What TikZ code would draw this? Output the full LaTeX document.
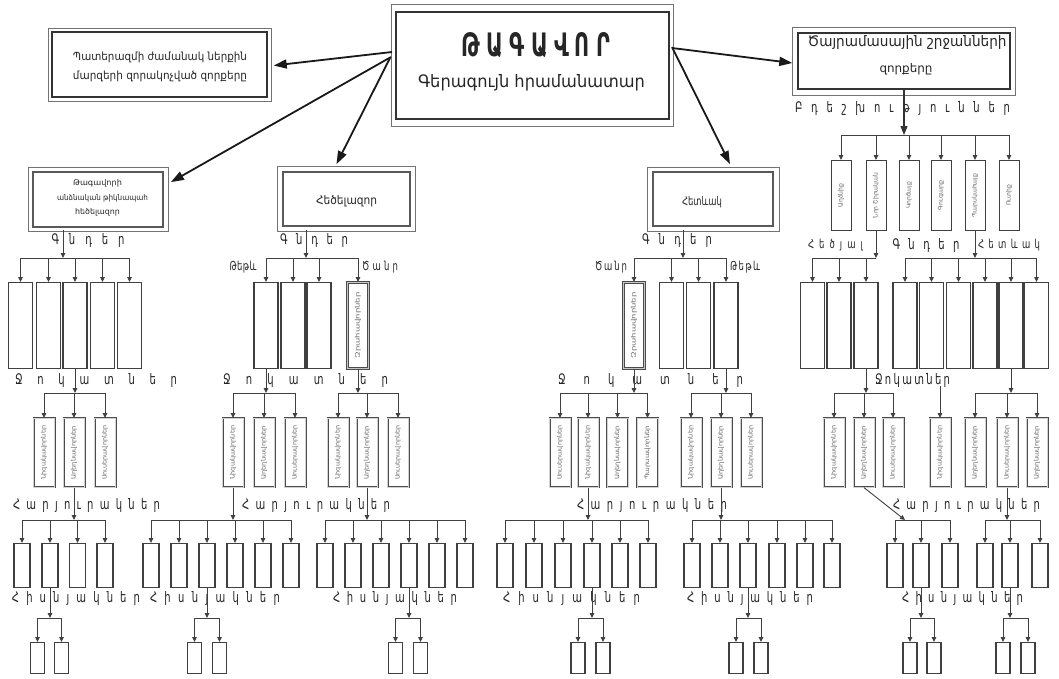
\documentclass[tikz,border=0pt]{standalone}
\usepackage{fontspec}
\usepackage{graphicx}
\setmainfont{DejaVu Sans}
\usetikzlibrary{arrows.meta}
\def\splA#1{\ifx\relax#1\else#1\expandafter\splB\fi}
\def\splB#1{\ifx\relax#1\else\hfill#1\expandafter\splB\fi}
\newcommand\spl[1]{\splA#1\relax}
\newcommand\spaced[2]{\scalebox{1}[1.45]{\makebox[#1pt][s]{\spl{#2}}}}
\newcommand\vt[2]{\resizebox{#1pt}{4.6pt}{#2}}
\newcommand\forkbar[3]{\foreach \ch in {#3}{\draw[barl] (#1 |- 0,#2) -- (\ch.north |- 0,#2); \draw[arr] (\ch.north |- 0,#2) -- (\ch.north);}}
\newcommand\fork[3]{\draw[arr] (#1) -- (#1 |- 0,#2); \forkbar{#1}{#2}{#3}}
\newcommand\oframe[3]{\draw[frame] ([shift={(-#2pt,#3pt)}]#1.north west) rectangle ([shift={(#2pt,-#3pt)}]#1.south east);}
\tikzset{
  tbox/.style={draw=black!80, line width=1.4pt, inner sep=0, fill=white},
  frame/.style={draw=black!55, line width=0.6pt},
  gbox/.style={draw=black!75, line width=1.2pt, inner sep=0, anchor=north, minimum width=24pt, minimum height=86pt},
  heavy/.style={draw=black!70, line width=0.6pt, double=gray!45, double distance=1.4pt, inner sep=0, anchor=north, minimum width=21pt, minimum height=86pt},
  jbox/.style={draw=black!70, line width=0.6pt, double=gray!35, double distance=0.8pt, inner sep=0, anchor=north, minimum width=21pt, minimum height=69pt},
  bbox/.style={draw=black!75, line width=0.9pt, inner sep=0, anchor=north, minimum width=20pt, minimum height=70pt},
  hbox/.style={draw=black!75, line width=1.2pt, inner sep=0, anchor=north, minimum width=16pt, minimum height=44pt},
  fbox/.style={draw=black!75, line width=1.2pt, inner sep=0, anchor=north, minimum width=14pt, minimum height=31pt},
  vtext/.style={rotate=90, inner sep=0, text=black!60},
  lab/.style={inner sep=0, font=\fontsize{10}{10}\selectfont, text=black!85},
  slab/.style={inner sep=0, font=\fontsize{8.5}{9}\selectfont, text=black!85},
  txt/.style={inner sep=0, text=black!85},
  arr/.style={draw=black!75, line width=0.9pt, -{Triangle[length=5pt,width=4.5pt]}},
  barl/.style={draw=black!75, line width=0.9pt},
  bigarr/.style={draw=black!90, line width=1.8pt, -{Triangle[length=13pt,width=9pt]}},
  medarr/.style={draw=black!80, line width=1.2pt, -{Triangle[length=9pt,width=7pt]}}
}
\begin{document}
\begin{tikzpicture}[x=1pt,y=-1pt]
\useasboundingbox (0,0) rectangle (1059,678);
\fill[white] (0,0) rectangle (1059,678);

% top-level boxes
\node[tbox, minimum width=273pt, minimum height=107pt] (king) at (532.5,65.5) {};
\oframe{king}{4}{7}
\node[txt] (kt1) at (536,45) {\resizebox{148pt}{24pt}{\bfseries Թ\kern3pt Ա\kern3pt Գ\kern3pt Ա\kern3pt Վ\kern3pt Ո\kern3pt Ր}};
\node[txt] (kt2) at (531.5,83) {\resizebox{227pt}{13pt}{Գերագույն հրամանատար}};

\node[tbox, minimum width=215pt, minimum height=65pt] (left1) at (159.5,64.5) {};
\oframe{left1}{3.5}{3.5}
\node[txt] (l1a) at (160,57) {\resizebox{174pt}{8.5pt}{Պատերազմի ժամանակ ներքին}};
\node[txt] (l1b) at (160,76) {\resizebox{174pt}{8.5pt}{մարզերի զորակոչված զորքերը}};

\node[tbox, minimum width=212pt, minimum height=56pt] (right1) at (904,61) {};
\oframe{right1}{5}{5.5}
\node[txt] (r1a) at (907,43) {\resizebox{199pt}{11pt}{Ծայրամասային շրջանների}};
\node[txt] (r1b) at (906,69) {\resizebox{53pt}{9pt}{զորքերը}};

\node[tbox, draw=black!65, line width=1.8pt, minimum width=130pt, minimum height=55pt] (left2) at (98,199.5) {};
\oframe{left2}{4}{3.5}
\node[txt] (l2a) at (97.5,183) {\resizebox{49pt}{6pt}{Թագավորի}};
\node[txt] (l2b) at (102.5,198) {\resizebox{91pt}{6pt}{անձնական թիկնապահ}};
\node[txt] (l2c) at (97.5,212) {\resizebox{45pt}{6pt}{հեծելազոր}};

\node[tbox, draw=black!65, line width=1.8pt, minimum width=127pt, minimum height=54pt] (hedz) at (346.5,199) {};
\oframe{hedz}{4.5}{4.5}
\node[txt] (hedzt) at (346.5,201) {\resizebox{61pt}{9pt}{Հեծելազոր}};

\node[tbox, draw=black!65, line width=1.8pt, minimum width=120pt, minimum height=54pt] (hetev) at (713,199) {};
\oframe{hetev}{5}{4}
\node[txt] (hetevt) at (702,202) {\resizebox{40pt}{9pt}{Հետևակ}};

% top-level arrows
\coordinate (k1) at (392,52);
\coordinate (k2) at (391,57);
\coordinate (k3) at (390,58);
\coordinate (k4) at (672,48);
\coordinate (k5) at (672,47);
\draw[bigarr] (k1) -- ([shift={(6pt,-1pt)}]left1.east);
\draw[bigarr] (k2) -- ([shift={(7pt,-11pt)}]left2.north east);
\draw[bigarr] (k3) -- ([shift={(-10pt,7pt)}]hedz.north);
\draw[bigarr] (k4) -- ([shift={(-5pt,-2pt)}]right1.west);
\draw[bigarr] (k5) -- ([shift={(17pt,7pt)}]hetev.north);

% level labels
\node[lab] (gA) at (88,240) {\spaced{73}{Գնդեր}};
\node[lab] (gB) at (314,240) {\spaced{68}{Գնդեր}};
\node[lab] (gC) at (677,240) {\spaced{70}{Գնդեր}};
\node[lab] (gD) at (926,245) {\spaced{67}{Գնդեր}};
\node[slab] (ltB) at (243,267) {\spaced{27}{Թեթև}};
\node[slab] (hvB) at (380,267) {\spaced{36}{Ծանր}};
\node[slab] (hvC) at (611,267) {\spaced{32}{Ծանր}};
\node[slab] (ltC) at (745,267) {\spaced{30}{Թեթև}};
\node[slab] (hsD) at (835.5,245) {\spaced{55}{Հեծյալ}};
\node[slab] (htD) at (1009,245) {\spaced{62}{Հետևակ}};
\node[lab] (jA) at (96,380) {\spaced{162}{Ջոկատներ}};
\node[lab] (jB) at (305.5,380) {\spaced{165}{Ջոկատներ}};
\node[lab] (jC) at (650.5,380) {\spaced{185}{Ջոկատներ}};
\node[lab] (jD) at (912.5,380) {\spaced{75}{Ջոկատներ}};
\node[lab] (hA) at (86.5,505) {\spaced{147}{Հարյուրակներ}};
\node[lab] (hB) at (316,505) {\spaced{148}{Հարյուրակներ}};
\node[lab] (hC) at (652,505) {\spaced{150}{Հարյուրակներ}};
\node[lab] (hD) at (966.5,505) {\spaced{147}{Հարյուրակներ}};
\node[lab] (fA) at (76,598) {\spaced{128}{Հիսնյակներ}};
\node[lab] (fB1) at (215,598) {\spaced{130}{Հիսնյակներ}};
\node[lab] (fB2) at (395,598) {\spaced{124}{Հիսնյակներ}};
\node[lab] (fC1) at (571.5,598) {\spaced{137}{Հիսնյակներ}};
\node[lab] (fC2) at (750,598) {\spaced{126}{Հիսնյակներ}};
\node[lab] (fD) at (962.5,598) {\spaced{121}{Հիսնյակներ}};
\node[lab] (bd) at (902.5,108) {\spaced{215}{Բդեշխություններ}};

% bdeshkh boxes
\foreach \n/\x/\t in {d1/841/Աղձնիք, d2/876/Նոր Շիրական, d3/909/Կորճայք, d4/941/Գուգարք, d5/975/Պարսկահայք, d6/1009/Ուտիք}{
  \node[bbox] (\n) at (\x,160) {};
  \node[vtext] (\n-t) at (\n) {\resizebox{!}{4.6pt}{\t}};
}

% regiment-level boxes
\foreach \n/\x in {a1/20.5,a2/48.5,a3/75,a4/102.5,a5/129.5, b1/266,b2/293,b3/319, c2/671.5,c3/698.5,c4/726, dg1/812.5,dg2/839,dg3/866,dg4/905,dg5/931.5,dg6/958.5,dg7/985,dg8/1011,dg9/1036.5}
  \node[gbox] (\n) at (\x,282) {};
\node[heavy] (b4) at (358,282) {};
\node[vtext] (b4-t) at (b4) {\vt{66}{Զրահավորներ}};
\node[heavy] (c1) at (634,282) {};
\node[vtext] (c1-t) at (c1) {\vt{66}{Զրահավորներ}};

% detachment boxes
\foreach \n/\x/\t in {aj1/44/Նիզակավորներ, aj2/74/Աղեղնավորներ, aj3/105/Սուսերավորներ,
  bj1/233/Նիզակավորներ, bj2/264/Աղեղնավորներ, bj3/295/Սուսերավորներ, bj4/338/Նիզակավորներ, bj5/367/Աղեղնավորներ, bj6/398/Սուսերավորներ,
  cj1/560/Սուսերավորներ, cj2/588/Նիզակավորներ, cj3/617.5/Աղեղնավորներ, cj4/647.5/Պարսավորներ, cj5/691/Նիզակավորներ, cj6/721/Աղեղնավորներ, cj7/751/Սուսերավորներ,
  dj1/834/Նիզակավորներ, dj2/864/Աղեղնավորներ, dj3/893/Սուսերավորներ, dj4/940/Նիզակավորներ, dj5/975/Աղեղնավորներ, dj6/1007/Սուսերավորներ, dj7/1037/Աղեղնավորներ}{
  \node[jbox] (\n) at (\x,418) {};
  \node[vtext] (\n-t) at (\n) {\vt{54}{\t}};
}

% hundreds
\foreach \n/\x in {ah1/22,ah2/50,ah3/77.5,ah4/105, bh1/151,bh2/179,bh3/207,bh4/235,bh5/263,bh6/291, bh7/325,bh8/353,bh9/381,bh10/409,bh11/437,bh12/465, ch1/505,ch2/534,ch3/563,ch4/592,ch5/620,ch6/648, ch7/692,ch8/720,ch9/748,ch10/777,ch11/805,ch12/832, dh1/895,dh2/921,dh3/950,dh4/985,dh5/1010,dh6/1040}
  \node[hbox] (\n) at (\x,543) {};

% fifties
\foreach \n/\x in {af1/37.5,af2/61.5, bf1/194.5,bf2/219.5,bf3/395.5,bf4/420.5, cf1/578,cf2/603,cf3/736,cf4/761, df1/910,df2/934,df3/1003,df4/1028}
  \node[fbox] (\n) at (\x,642) {};

% connectors
\draw[medarr] (right1.south) -- (right1.south |- 0,135);
\forkbar{right1.south}{135}{d1,d2,d3,d4,d5,d6}

\coordinate (a0) at (63,230);
\coordinate (b0) at (306,230);
\coordinate (c0) at (683,230);
\fork{a0}{258}{a1,a2,a3,a4,a5}
\fork{b0}{258}{b1,b2,b3,b4}
\fork{c0}{258}{c1,c2,c3,c4}
\fork{d2.south}{258}{dg1,dg2,dg3}
\fork{d5.south}{258}{dg4,dg5,dg6,dg7,dg8,dg9}

\fork{a3.south}{393}{aj1,aj2,aj3}
\fork{b1.south}{393}{bj1,bj2,bj3}
\fork{b4.south}{393}{bj4,bj5,bj6}
\fork{c1.south}{393}{cj1,cj2,cj3,cj4}
\fork{c4.south}{393}{cj5,cj6,cj7}
\fork{dg3.south}{393}{dj1,dj2,dj3}
\fork{dg8.south}{393}{dj5,dj6,dj7}
\coordinate (dfree) at (940,386);
\draw[arr] (dfree) -- (dj4.north);

\fork{aj2.south}{520}{ah1,ah2,ah3,ah4}
\fork{bj1.south}{520}{bh1,bh2,bh3,bh4,bh5,bh6}
\fork{bj5.south}{520}{bh7,bh8,bh9,bh10,bh11,bh12}
\fork{cj2.south}{520}{ch1,ch2,ch3,ch4,ch5,ch6}
\fork{cj6.south}{520}{ch7,ch8,ch9,ch10,ch11,ch12}
\coordinate (dhj) at (905,520);
\draw[arr] (dj2.south) -- (dhj);
\forkbar{dhj}{520}{dh1,dh2,dh3}
\fork{dj6.south}{520}{dh4,dh5,dh6}

\fork{ah2.south}{618}{af1,af2}
\fork{bh3.south}{618}{bf1,bf2}
\fork{bh10.south}{618}{bf3,bf4}
\fork{ch4.south}{618}{cf1,cf2}
\fork{ch9.south}{618}{cf3,cf4}
\fork{dh2.south}{618}{df1,df2}
\fork{dh5.south}{618}{df3,df4}
\end{tikzpicture}
\end{document}
